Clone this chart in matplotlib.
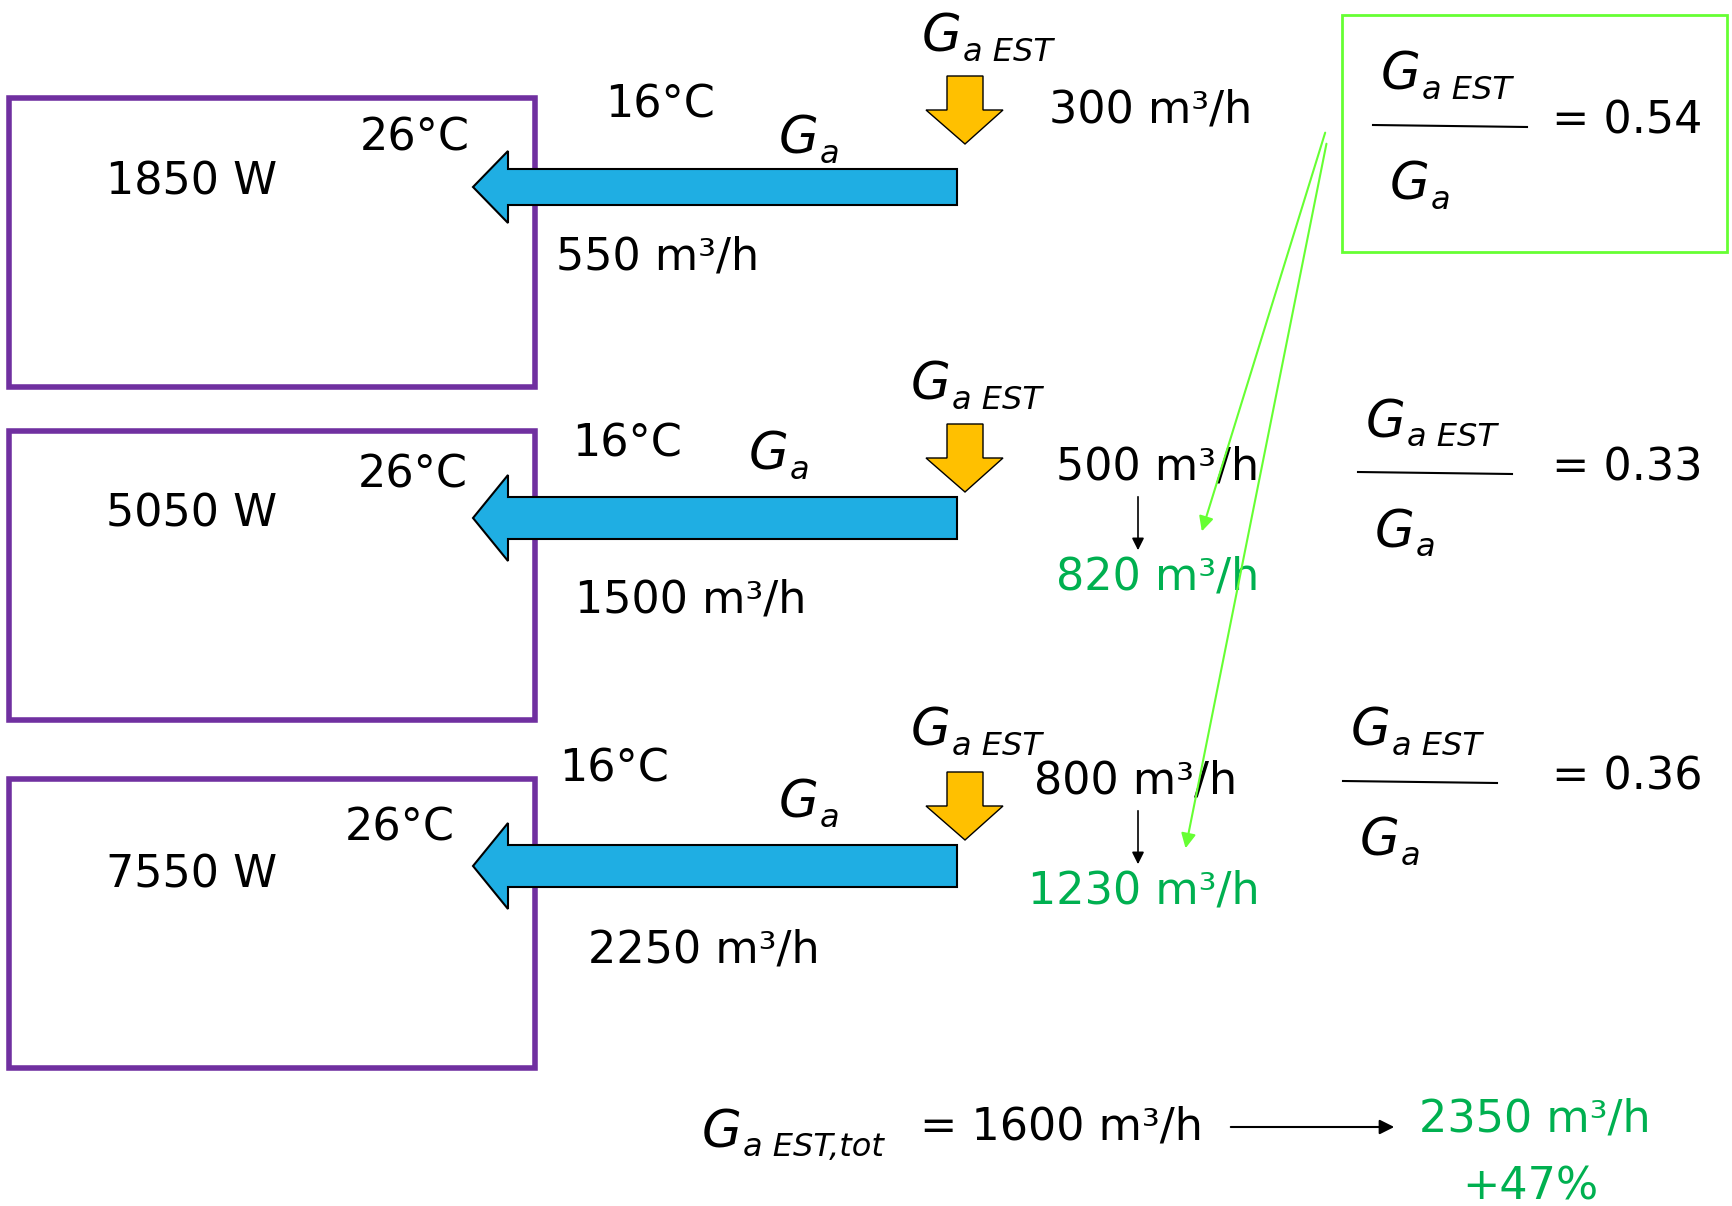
import matplotlib
matplotlib.use('Agg')
import matplotlib.pyplot as plt
from matplotlib.patches import Rectangle, Polygon

# values
power_W = [1850, 5050, 7550]
ga_flow = [550, 1500, 2250]
ga_est = [300, 500, 800]
ga_est_new = [None, 820, 1230]
ratios = [0.54, 0.33, 0.36]
t_supply = 16
t_room = 26
est_total = 1600
est_total_new = 2350
increase_pct = 47

# layout (pixel coords of the 1732x1206 canvas)
box_top = [98, 431, 779]
box_h = 289
arrow_y = [187, 518, 866]
arrow_half = [18, 21, 21]
head_half = [36, 43, 43]
yel_top = [76, 424, 772]
dy_16 = [105, 444, 769]
dx_16 = [605, 572, 559]
dx_26 = [360, 358, 345]
dy_26 = [138, 475, 828]
dx_ga = [779, 749, 779]
dy_ga = [135, 451, 799]
dx_gest = [926, 915, 915]
dy_gest = [33, 381, 727]
dx_est = [1049, 1056, 1034]
dy_est = [110, 467, 781]
dx_flow = [556, 575, 588]
dy_flow = [257, 600, 950]
dy_pow = [182, 514, 875]
frac_x = [1373, 1358, 1343]
frac_y = [126, 473, 782]

purple = '#7030A0'
blue = '#1FAEE3'
yellow = '#FFC000'
green_txt = '#00B050'
green_ln = '#66FF33'

plt.rcParams['font.family'] = ['DejaVu Sans']
fs = 32

fig = plt.figure(figsize=(17.32, 12.06), dpi=100)
ax = fig.add_axes([0, 0, 1, 1])
ax.set_xlim(0, 1732)
ax.set_ylim(1206, 0)
ax.axis('off')


def g_symbol(x, yc, sub):
    # italic G with a smaller italic subscript, yc = centre of the G
    yb = yc + 19
    ax.text(x, yb, 'G', fontsize=37, style='italic', va='baseline', ha='left')
    ax.text(x + 41, yb + 9, sub, fontsize=23, style='italic',
            va='baseline', ha='left')


for i in range(3):
    # room box
    ax.add_patch(Rectangle((9, box_top[i]), 526, box_h, fill=False,
                           ec=purple, lw=4))
    # blue supply arrow
    y = arrow_y[i]
    a, h = arrow_half[i], head_half[i]
    ax.add_patch(Polygon([(957, y - a), (508, y - a), (508, y - h), (473, y),
                          (508, y + h), (508, y + a), (957, y + a)],
                         closed=True, fc=blue, ec='black', lw=1.5, zorder=3))
    # yellow outdoor air arrow
    t = yel_top[i]
    ax.add_patch(Polygon([(947, t), (983, t), (983, t + 34), (1003, t + 34),
                          (965, t + 68), (926, t + 34), (947, t + 34)],
                         closed=True, fc=yellow, ec='black', lw=1, zorder=3))

    ax.text(106, dy_pow[i], f'{power_W[i]} W', fontsize=fs, va='center', ha='left')
    ax.text(dx_26[i], dy_26[i], f'{t_room}°C', fontsize=fs, va='center', ha='left')
    ax.text(dx_16[i], dy_16[i], f'{t_supply}°C', fontsize=fs, va='center', ha='left')
    g_symbol(dx_ga[i], dy_ga[i], 'a')
    g_symbol(dx_gest[i] - 4, dy_gest[i], 'a EST')
    ax.text(dx_flow[i], dy_flow[i], f'{ga_flow[i]} m³/h', fontsize=fs,
            va='center', ha='left')
    ax.text(dx_est[i], dy_est[i], f'{ga_est[i]} m³/h', fontsize=fs,
            va='center', ha='left')
    if ga_est_new[i] is not None:
        ax.annotate('', xy=(1138, dy_est[i] + 86), xytext=(1138, dy_est[i] + 27),
                    arrowprops=dict(arrowstyle='-|>', color='black', lw=1.2,
                                    mutation_scale=18))
        ax.text(dx_est[i] - (6 if ga_est_new[i] >= 1000 else 0), dy_est[i] + 110,
                f'{ga_est_new[i]} m³/h', fontsize=fs, color=green_txt,
                va='center', ha='left')

    # ratio fraction
    fx, fy = frac_x[i], frac_y[i]
    g_symbol(fx + 8, fy - 55, 'a EST')
    ax.plot([fx, fx + 154], [fy - 1, fy + 1], color='black', lw=1.5)
    g_symbol(fx + 17, fy + 55, 'a')
    ax.text(1552, fy - 5, f'= {ratios[i]:.2f}', fontsize=fs, va='center', ha='left')

# green box around first ratio
ax.add_patch(Rectangle((1342, 15), 385, 237, fill=False, ec=green_ln, lw=2))
# pointer lines to the corrected flows
ax.annotate('', xy=(1201, 534), xytext=(1326, 130),
            arrowprops=dict(arrowstyle='-|>', color=green_ln, lw=1.5,
                            mutation_scale=22))
ax.annotate('', xy=(1185, 851), xytext=(1327, 141),
            arrowprops=dict(arrowstyle='-|>', color=green_ln, lw=1.5,
                            mutation_scale=22))

# totals
g_symbol(702, 1128, 'a EST,tot')
ax.text(920, 1127, f'= {est_total} m³/h', fontsize=fs, va='center', ha='left')
ax.annotate('', xy=(1397, 1127), xytext=(1228, 1127),
            arrowprops=dict(arrowstyle='-|>', color='black', lw=1.5,
                            mutation_scale=22))
ax.text(1419, 1119, f'{est_total_new} m³/h', fontsize=fs, color=green_txt,
        va='center', ha='left')
ax.text(1462, 1187, f'+{increase_pct}%', fontsize=fs, color=green_txt,
        va='center', ha='left')

fig.savefig('out.png', dpi=100, facecolor='white')
